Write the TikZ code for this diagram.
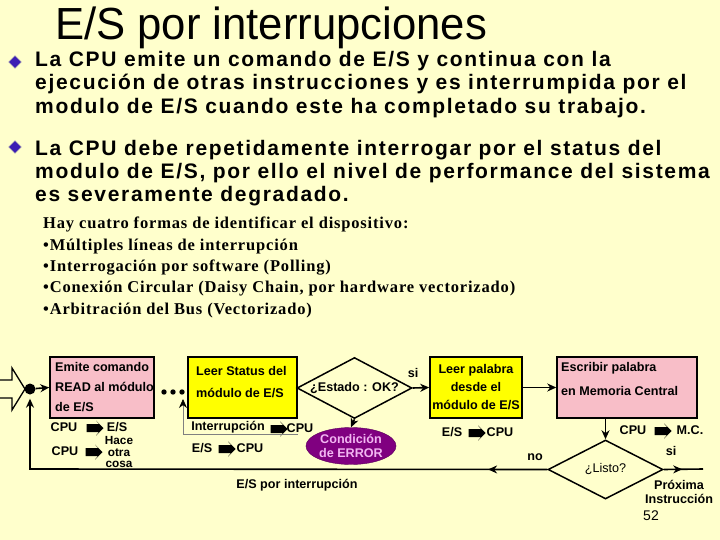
\documentclass[tikz,border=0pt]{standalone}
\usepackage{fontspec}
\setmainfont{Liberation Sans}
\newfontfamily\romana{Liberation Serif}
\usetikzlibrary{shapes.geometric,shapes.arrows,arrows.meta,decorations.markings}

\definecolor{fondo}{HTML}{FFFFCC}
\definecolor{rosa}{HTML}{F8BEC8}
\definecolor{amarillo}{HTML}{FFFF00}
\definecolor{morado}{HTML}{800080}
\definecolor{lila}{HTML}{F2B6F2}
\definecolor{violeta}{HTML}{3C1EB4}

\tikzset{
  caja/.style={draw, line width=1.5pt, inner sep=0pt},
  cajarosa/.style={caja, fill=rosa},
  cajaamarilla/.style={caja, fill=amarillo},
  etiq/.style={font=\fontsize{12.6}{15}\selectfont\bfseries, inner sep=0pt},
  linea/.style={line width=1.6pt},
  flecha/.style={linea, -{Stealth[length=9pt,width=8pt]}},
  flechon/.style={single arrow, fill=black, inner ysep=3.8pt, inner xsep=0pt,
    minimum height=17pt, single arrow head extend=3.5pt, single arrow head indent=3pt},
  rombo/.style={diamond, draw, line width=1.5pt, inner sep=0pt},
  vineta/.style={diamond, draw=gray!60, fill=violeta, minimum size=13pt, inner sep=0pt},
  puntaen/.style={postaction=decorate, decoration={markings,
    mark=at position #1 with {\arrow{Stealth[length=9pt,width=8pt]}}}}
}

\begin{document}
\begin{tikzpicture}[x=1pt,y=-1pt]
  \useasboundingbox (0,0) rectangle (720,540);
  \fill[fondo] (0,0) rectangle (720,540);

  %%%%% texto %%%%%
  \node[anchor=base west, inner sep=0pt, xscale=0.97, font=\fontsize{45}{50}\selectfont] (titulo) at (55,40) {E/S por interrupciones};

  \node[vineta] (v1) at (15,62) {};
  \node[vineta] (v2) at (15,147) {};
  % base = linea de base de la ultima linea
  \node[anchor=base west, inner sep=0pt, align=left,
    font=\fontsize{21}{23.3}\selectfont\bfseries\addfontfeature{LetterSpace=8}] (parrafo1) at (35,113.3)
    {La CPU emite un comando de E/S y continua con la\\
     ejecución de otras instrucciones y es interrumpida por el\\
     modulo de E/S cuando este ha completado su trabajo.};
  \node[anchor=base west, inner sep=0pt, align=left,
    font=\fontsize{21}{23.3}\selectfont\bfseries\addfontfeature{LetterSpace=8}] (parrafo2) at (35,201.7)
    {La CPU debe repetidamente interrogar por el status del\\
     modulo de E/S, por ello el nivel de performance del sistema\\
     es severamente degradado.};

  \node[anchor=base west, inner sep=0pt, align=left,
    font=\romana\fontsize{16.5}{21.3}\selectfont\bfseries\addfontfeature{LetterSpace=5}] (formas) at (43,314)
    {Hay cuatro formas de identificar el dispositivo:\\
     •Múltiples líneas de interrupción\\
     •Interrogación por software (Polling)\\
     •Conexión Circular (Daisy Chain, por hardware vectorizado)\\
     •Arbitración del Bus (Vectorizado)};

  %%%%% diagrama %%%%%
  \draw[line width=1.3pt, fill=fondo] (0,380) -- (12,380) -- (12,368) -- (25,389) -- (12,410) -- (12,398) -- (0,398);
  \node[circle, fill=black, minimum size=11pt, inner sep=0pt] (punto) at (30,389) {};

  \node[cajarosa, minimum width=104pt, minimum height=61pt] (emite) at (102,387.5) {};
  \node[etiq, anchor=west, align=left, font=\fontsize{12.6}{20}\selectfont\bfseries] (temite) at (55,387) {Emite comando\\READ al módulo\\de E/S};

  \foreach \x in {164,173,182} \fill (\x,392) circle (2.7pt);

  \node[cajaamarilla, minimum width=109pt, minimum height=61pt] (status) at (242.5,387.5) {};
  \node[etiq, anchor=west, align=left, font=\fontsize{12.6}{22.5}\selectfont\bfseries] (tstatus) at (196,382) {Leer Status del\\módulo de E/S};

  \node[rombo, fill=fondo, minimum width=115pt, minimum height=61pt, aspect=1.9] (estado) at (354.5,388) {};
  \node[etiq] (testado) at (354.5,388) {¿Estado : OK?};

  \node[ellipse, fill=morado, draw=morado!70!black, minimum width=85pt, minimum height=37pt, inner sep=0pt,
    text=lila, align=center, font=\fontsize{12.6}{13.5}\selectfont\bfseries] (error) at (351,446) {Condición\\de ERROR};

  \node[cajaamarilla, minimum width=92pt, minimum height=61pt] (leer) at (476,387.5) {};
  \node[etiq, align=center, font=\fontsize{12.6}{18}\selectfont\bfseries] (tleer) at (476,387) {Leer palabra\\desde el\\módulo de E/S};

  \node[cajarosa, minimum width=140pt, minimum height=61pt] (escribir) at (627,387.5) {};
  \node[etiq, anchor=west, align=left, font=\fontsize{12.6}{24}\selectfont\bfseries] (tescribir) at (561,379) {Escribir palabra\\en Memoria Central};

  \node[rombo, fill=fondo, minimum width=115pt, minimum height=59pt, aspect=1.95] (listo) at (605.5,469.5) {};
  \node[inner sep=0pt, font=\fontsize{12.6}{15}\selectfont] (tlisto) at (605.5,469.5) {¿Listo?};

  % etiquetas con flechas
  \node[etiq] (cpu1) at (64,427) {CPU};
  \node[flechon] (f1) at (93,428) {};
  \node[etiq] (es1) at (117,427) {E/S};
  \node[etiq] (cpu2) at (65,451) {CPU};
  \node[flechon] (f2) at (92,452) {};
  \node[etiq, align=center, font=\fontsize{11.8}{11.6}\selectfont\bfseries] (hace) at (119,452) {Hace\\otra\\cosa};

  \node[etiq] (interr) at (228,427) {Interrupción};
  \node[flechon] (f3) at (277,429) {};
  \node[etiq] (cpu3) at (300,428) {CPU};
  \node[etiq] (es2) at (202,448) {E/S};
  \node[flechon] (f4) at (225,449) {};
  \node[etiq] (cpu4) at (250,448) {CPU};

  \node[etiq] (es3) at (452,432) {E/S};
  \node[flechon] (f5) at (475,433) {};
  \node[etiq] (cpu5) at (500,432) {CPU};
  \node[etiq] (cpu6) at (633,430) {CPU};
  \node[flechon] (f6) at (661,431) {};
  \node[etiq] (mc) at (690,430) {M.C.};

  \node[etiq] (si1) at (413,373) {si};
  \node[etiq] (si2) at (671,451) {si};
  \node[etiq] (no) at (535,457) {no};
  \node[etiq, align=center, font=\fontsize{12.6}{13.5}\selectfont\bfseries] (proxima) at (679,492) {Próxima\\Instrucción};
  \node[etiq] (pie) at (297,485) {E/S por interrupción};
  \node[inner sep=0pt, font=\fontsize{14}{16}\selectfont] (pagina) at (651,516) {52};

  % conectores
  \coordinate (esquina) at (30,469);
  \coordinate (salida) at (703,469);
  \coordinate (intA) at (298,434);
  \coordinate (intB) at (183,434);
  \coordinate (intC) at (183,399);

  \draw[flecha] (punto) -- (emite.west);
  \draw[flecha] (estado.east) -- (leer.west);
  \draw[flecha] (leer.east) -- (escribir.west);
  \draw[flecha] (estado.south) -- (error.north);
  \draw[flecha] (escribir.south -| listo.north) -- (listo.north);
  \draw[linea, puntaen=0.47] (listo.east) -- (salida);
  \draw[flecha, shorten >=4pt, puntaen=0.1] (listo.west) -- (esquina) -- (punto);
  \draw[gray, line width=0.7pt, -{Stealth[length=9pt,width=8pt,black]}] (intA) -- (intB) -- (intC);
\end{tikzpicture}
\end{document}
